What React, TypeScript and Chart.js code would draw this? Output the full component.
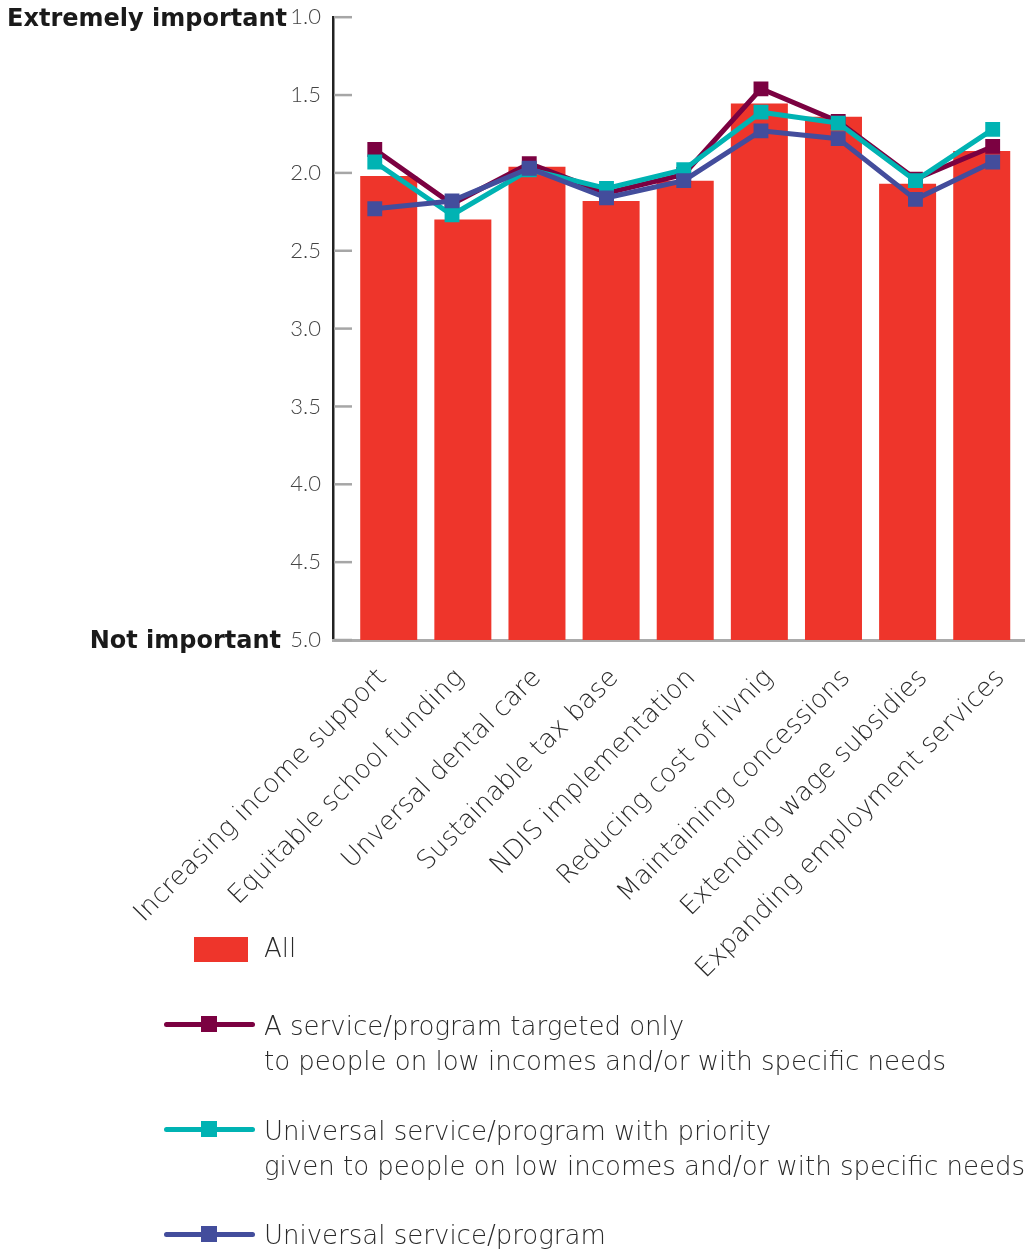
import React, { useEffect, useRef } from "react";
import { Chart, registerables } from "chart.js";

Chart.register(...registerables);

const categories = [
  "Increasing income support",
  "Equitable school funding",
  "Unversal dental care",
  "Sustainable tax base",
  "NDIS implementation",
  "Reducing cost of livnig",
  "Maintaining concessions",
  "Extending wage subsidies",
  "Expanding employment services",
];
const allValues = [2.02, 2.3, 1.96, 2.18, 2.05, 1.555, 1.64, 2.07, 1.86];
const targetedValues = [1.85, 2.2, 1.94, 2.13, 2.01, 1.46, 1.67, 2.04, 1.83];
const priorityValues = [1.93, 2.27, 1.98, 2.1, 1.98, 1.61, 1.68, 2.05, 1.72];
const universalValues = [2.23, 2.18, 1.97, 2.16, 2.05, 1.73, 1.78, 2.17, 1.93];
const yTicks = [1, 1.5, 2, 2.5, 3, 3.5, 4, 4.5, 5];

const RED = "#EE352B";
const MAROON = "#7B0141";
const TEAL = "#00B3B3";
const BLUE = "#434D9C";
const TEXT = "#2a2a2a";
const LIGHT = "'DejaVu Sans', sans-serif";
const TICKFONT = "Lato, sans-serif";

const W = 1030;
const H = 1251;
const AREA_LEFT = 333;
const AREA_TOP = 11;
const AREA_BOTTOM = 640;
const AREA_RIGHT = 1028;

const sideLabels = {
  id: "sideLabels",
  beforeDatasetsDraw(chart: any) {
    const ctx = chart.ctx;
    const y = chart.scales.y;
    const left = chart.chartArea.left;
    ctx.save();
    ctx.strokeStyle = "#A6A6A6";
    ctx.lineWidth = 2.5;
    yTicks.forEach((v) => {
      const py = y.getPixelForValue(v);
      ctx.beginPath();
      ctx.moveTo(left + 1, py);
      ctx.lineTo(left + 19, py);
      ctx.stroke();
    });
    ctx.restore();
  },
  afterDraw(chart: any) {
    const ctx = chart.ctx;
    const y = chart.scales.y;
    ctx.save();
    ctx.font = "bold 24px 'DejaVu Sans', sans-serif";
    ctx.fillStyle = "#1a1a1a";
    ctx.textAlign = "right";
    ctx.textBaseline = "middle";
    ctx.fillText("Extremely important", 287, y.getPixelForValue(1) + 3);
    ctx.fillText("Not important", 281, y.getPixelForValue(5) + 2);
    ctx.restore();
  },
};

function App() {
  const ref = useRef<HTMLCanvasElement | null>(null);

  useEffect(() => {
    if (!ref.current) return;
    const lineDs = (label: string, data: number[], color: string, order: number) => ({
      type: "line" as const,
      label,
      data: data.map((v, i) => ({ x: i, y: v })),
      xAxisID: "xl",
      yAxisID: "y",
      borderColor: color,
      backgroundColor: color,
      borderWidth: 5,
      pointStyle: "rect" as const,
      pointRadius: 10.5,
      pointBorderWidth: 0,
      pointBackgroundColor: color,
      tension: 0,
      order,
    });
    const chart = new Chart(ref.current, {
      type: "bar",
      data: {
        datasets: [
          lineDs("A service/program targeted only to people on low incomes and/or with specific needs", targetedValues, MAROON, 3),
          lineDs("Universal service/program with priority given to people on low incomes and/or with specific needs", priorityValues, TEAL, 2),
          lineDs("Universal service/program", universalValues, BLUE, 1),
          {
            type: "bar" as const,
            label: "All",
            data: allValues.map((v, i) => ({ x: i, y: v })),
            xAxisID: "xb",
            yAxisID: "y",
            backgroundColor: RED,
            borderWidth: 0,
            grouped: false,
            maxBarThickness: 57,
            barPercentage: 0.9,
            categoryPercentage: 0.9,
            base: 5,
            order: 10,
          } as any,
        ],
      },
      options: {
        responsive: false,
        animation: false,
        devicePixelRatio: 1,
        layout: {
          autoPadding: false,
          padding: { top: AREA_TOP, right: W - AREA_RIGHT, left: 0, bottom: 0 },
        },
        plugins: {
          legend: { display: false },
          tooltip: { enabled: false },
        },
        scales: {
          y: {
            type: "linear",
            reverse: true,
            min: 1,
            max: 5,
            beginAtZero: false,
            afterFit: (s: any) => {
              s.width = AREA_LEFT;
            },
            afterBuildTicks: (s: any) => {
              s.ticks = yTicks.map((v) => ({ value: v }));
            },
            ticks: {
              padding: 4,
              color: "#444444",
              font: { family: TICKFONT, size: 22, weight: "300" },
              callback: (v: any) => Number(v).toFixed(1),
            },
            grid: { display: false },
            border: { display: true, color: "#222222", width: 2.5 },
          },
          xb: {
            type: "linear",
            display: false,
            offset: false,
            beginAtZero: false,
            min: -0.7517,
            max: 8.577,
          },
          xl: {
            type: "linear",
            position: "bottom",
            offset: false,
            beginAtZero: false,
            min: -0.541,
            max: 8.412,
            afterFit: (s: any) => {
              s.height = H - AREA_BOTTOM;
            },
            afterBuildTicks: (s: any) => {
              s.ticks = categories.map((_, i) => ({ value: i }));
            },
            ticks: {
              autoSkip: false,
              maxRotation: 45,
              minRotation: 45,
              padding: 15,
              labelOffset: 8,
              color: TEXT,
              font: { family: LIGHT, size: 26, weight: "200" },
              callback: (v: any) => categories[Number(v)] ?? "",
            },
            grid: { display: false, offset: false },
            border: { display: true, color: "#ABABAB", width: 3 },
          },
        },
      },
      plugins: [sideLabels],
    } as any);
    return () => chart.destroy();
  }, []);

  const legendText: React.CSSProperties = {
    position: "absolute",
    left: 264,
    fontFamily: LIGHT,
    fontWeight: 200,
    fontSize: 26,
    lineHeight: "35px",
    color: TEXT,
    whiteSpace: "nowrap",
  };
  const lineKey = (top: number, color: string) => (
    <>
      <div style={{ position: "absolute", left: 164, top: top - 2.5, width: 91, height: 5, background: color, borderRadius: 3 }} />
      <div style={{ position: "absolute", left: 201, top: top - 8, width: 16, height: 16, background: color }} />
    </>
  );

  return (
    <div style={{ position: "absolute", left: 0, top: 0, width: W, height: H, overflow: "hidden", background: "#fff" }}>
      <canvas ref={ref} width={W} height={H} style={{ position: "absolute", left: 0, top: 0 }} />
      <div style={{ position: "absolute", left: 194, top: 937, width: 54, height: 25, background: RED }} />
      <div style={{ ...legendText, top: 931 }}>All</div>
      {lineKey(1024, MAROON)}
      <div style={{ ...legendText, top: 1009 }}>
        A service/program targeted only
        <br />
        to people on low incomes and/or with specific needs
      </div>
      {lineKey(1129, TEAL)}
      <div style={{ ...legendText, top: 1114 }}>
        Universal service/program with priority
        <br />
        given to people on low incomes and/or with specific needs
      </div>
      {lineKey(1234, BLUE)}
      <div style={{ ...legendText, top: 1218 }}>Universal service/program</div>
    </div>
  );
}

export default App;
